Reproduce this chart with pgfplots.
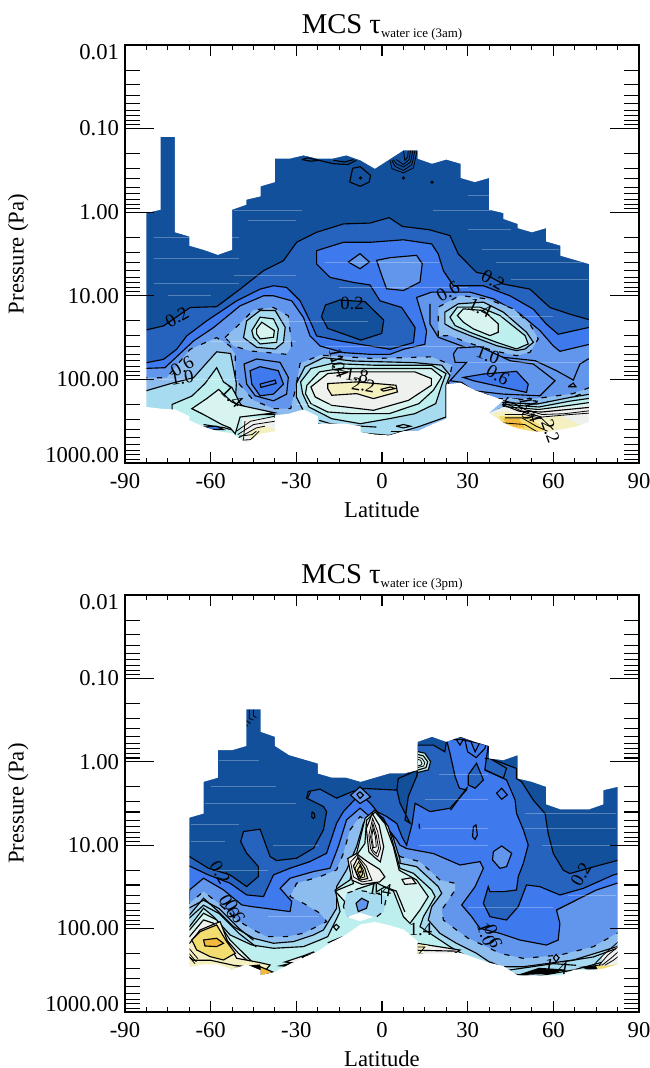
\documentclass[border=0pt]{standalone}
\usepackage{fontspec}
\setmainfont{Liberation Serif}
\usepackage{pgfplots}
\pgfplotsset{compat=1.18}
\definecolor{L0}{HTML}{12509C}
\definecolor{L1}{HTML}{2563BE}
\definecolor{L2}{HTML}{3E79EE}
\definecolor{L3}{HTML}{6196EC}
\definecolor{L4}{HTML}{8DBDEE}
\definecolor{L5}{HTML}{A6DBF0}
\definecolor{L6}{HTML}{BDEFEF}
\definecolor{L7}{HTML}{D8F4F0}
\definecolor{L8}{HTML}{EEF1EE}
\definecolor{L9}{HTML}{F5F0C0}
\definecolor{L10}{HTML}{F3DC70}
\definecolor{L11}{HTML}{F2B93C}
\newcommand{\reg}[2]{\addplot[fill=#1,draw=black,line width=.85pt] coordinates {#2} -- cycle;}
\newcommand{\fil}[2]{\addplot[fill=#1,draw=none] coordinates {#2} -- cycle;}
\newcommand{\das}[2]{\addplot[fill=#1,draw=black,line width=.85pt,dash pattern=on 4pt off 7pt] coordinates {#2} -- cycle;}
\newcommand{\cl}[1]{\addplot[black,line width=.85pt] coordinates {#1};}
\newcommand{\clt}[1]{\addplot[black,line width=.6pt] coordinates {#1};}
\newcommand{\lab}[4]{\node[rotate=#4,font=\fontsize{14}{14}\selectfont,inner sep=0pt] at (axis cs:#1,#2) {#3};}
\newcommand{\ttl}[1]{MCS τ\raisebox{-3pt}{\fontsize{9.7}{9.7}\selectfont water ice (#1)}}
\pgfplotsset{
 base/.style={scale only axis,width=385.5pt,xmin=-90,xmax=90,ymin=-2,ymax=3,y dir=reverse,
  no markers,axis line style={line width=1pt},tick style={black,line width=.8pt},
  tick align=inside,tick pos=both},
 ax/.style={base,axis on top,
  major tick length=21.5pt,minor tick length=11.25pt,
  xtick=\empty,
  ytick={-2,-1,0,1,2,3},yticklabels={\raisebox{-5pt}[\height][\depth]{0.01},0.10,1.00,10.00,100.00,\raisebox{6pt}[\height][\depth]{1000.00}},
  minor ytick={-1.699,-1.523,-1.398,-1.301,-1.222,-1.155,-1.097,-1.046,-.699,-.523,-.398,-.301,-.222,-.155,-.097,-.046,.301,.477,.602,.699,.778,.845,.903,.954,1.301,1.477,1.602,1.699,1.778,1.845,1.903,1.954,2.301,2.477,2.602,2.699,2.778,2.845,2.903,2.954},
  yticklabel style={font=\fontsize{17}{17}\selectfont,xshift=-1pt},
  ylabel={Pressure (Pa)},
  ylabel style={at={(axis description cs:-0.208,0.5)},anchor=center,font=\fontsize{17}{17}\selectfont},
  title style={at={(axis description cs:0.5,1.024)},anchor=center,font=\fontsize{21.5}{21.5}\selectfont}},
 axx/.style={base,major tick length=8.25pt,minor tick length=3.75pt,
  ytick=\empty,xtick={-90,-60,-30,0,30,60,90},xticklabels={-90,-60,-30,0,30,60,90},
  minor xtick={-82.5,-75,-67.5,-52.5,-45,-37.5,-22.5,-15,-7.5,7.5,15,22.5,37.5,45,52.5,67.5,75,82.5},
  xticklabel style={font=\fontsize{17}{17}\selectfont,yshift=-4.5pt},
  xlabel={Latitude},
  xlabel style={at={(axis description cs:0.5,-0.112)},anchor=center,font=\fontsize{17}{17}\selectfont}}
}
\begin{document}
\begin{tikzpicture}
\useasboundingbox (0,0) rectangle (487.5pt,801pt);
% ---------------- TOP PANEL
\begin{axis}[ax,at={(93.75pt,453.75pt)},height=313.5pt,title={\ttl{3am}}]
\fil{L0}{(-90,-2)(90,-2)(90,3)(-90,3)}
\reg{L1}{(-84,1.42)(-76.5,1.36)(-67.2,1.14)(-57.9,1.13)(-49.7,.92)(-41.5,.70)(-34.5,.58)(-29.9,.36)(-22.9,.24)(-13.5,.14)(-4.2,.13)(2.5,.065)(7.1,.17)(16.6,.21)(23.8,.28)(26.7,.50)(33.1,.72)(36.1,.74)(42.5,.86)(51.8,.92)(58.8,1.14)(65.8,1.22)(74,1.30)(74,3)(-84,3)}
\reg{L2}{(-84,1.81)(-76.5,1.76)(-71.9,1.64)(-68.4,1.48)(-61.4,1.30)(-50.9,1.06)(-42.7,.92)(-38,.88)(-33.4,.90)(-28.7,1.06)(-25.2,1.30)(-22.9,1.48)(-14.7,1.54)(-4.2,1.6)(2.8,1.64)(11,1.56)(11.6,1.38)(6.9,1.14)(-.7,1.06)(-4.2,.87)(-10,.84)(-18.2,.78)(-22.9,.62)(-22.9,.46)(-13.5,.36)(-4.2,.36)(7.5,.33)(17.4,.38)(19.7,.50)(21.5,.70)(25,.88)(35.5,.88)(44.8,1.0)(53,1.16)(57.6,1.34)(61.7,1.46)(72.2,1.38)(74,1.37)(74,3)(-84,3)}
\reg{L0}{(-19.8,1.11)(-14.7,1.05)(-6,1.07)(.6,1.29)(-.1,1.45)(-7.4,1.53)(-19,1.39)(-21.2,1.25)}
\reg{L3}{(-1.9,.576)(2.8,.544)(12.1,.516)(14.1,.616)(13.3,.836)(7.5,.936)(1.6,.916)(-.1,.756)}
\reg{L3}{(-11.8,.596)(-7.7,.496)(-4.4,.596)(-7.7,.676)}
\reg{L3}{(-84,1.87)(-76,1.86)(-66,1.54)(-59,1.38)(-49.7,1.12)(-41.5,1.0)(-38,1.0)(-31.6,1.06)(-27.5,1.26)(-25.2,1.48)(-21.7,1.6)(-13.5,1.68)(-4.2,1.7)(2.8,1.7)(7.5,1.64)(15,1.58)(15.6,1.42)(12.1,1.02)(17.4,.956)(20.9,.956)(30.8,.956)(39,1.036)(48.3,1.216)(55.3,1.416)(60,1.6)(62.3,1.664)(72.2,1.584)(74,1.57)(74,3)(-84,3)}
% light regions
\cl{(16.8,1.096)(16.8,1.336)(19.7,1.496)(30.8,1.636)(42.5,1.736)(53.6,1.776)(61.1,1.896)(67,2.008)(69.3,1.816)(72.2,1.756)(74,1.75)}
\das{L4}{(19.7,1.48)(19.7,1.136)(27.3,.996)(36.6,1.036)(46,1.156)(51.8,1.336)(54.7,1.516)(51.8,1.676)(47.1,1.716)(39,1.656)(29.6,1.556)(23.8,1.476)}
\reg{L5}{(22,1.336)(22,1.196)(26.7,1.096)(35.5,1.076)(42.5,1.196)(50.6,1.436)(53,1.556)(50.1,1.636)(47.1,1.656)(40.1,1.596)(30.8,1.476)(25,1.396)}
\reg{L6}{(23.8,1.256)(26.4,1.136)(34.3,1.136)(41.3,1.236)(50.1,1.476)(51.2,1.576)(47.1,1.636)(40.1,1.556)(30.8,1.436)(25.6,1.356)}
\reg{L7}{(26.4,1.236)(28.5,1.156)(35.5,1.176)(40.7,1.336)(40.7,1.436)(37.8,1.476)(32,1.396)(28.5,1.316)}
\das{L4}{(-55,1.5)(-50,1.34)(-45,1.17)(-38,1.14)(-32.8,1.24)(-31.6,1.6)(-33.4,1.7)(-46,1.66)(-52,1.6)}
\das{L4}{(-84,1.98)(-75.4,1.98)(-67.2,1.64)(-57.9,1.5)(-53.2,1.6)(-51.4,1.7)(-51.4,2.0)(-45,2.25)(-38,2.35)(-32,2.35)(-30.4,2.13)(-28.7,1.81)(-21.7,1.71)(-3,1.75)(17.3,1.73)(24.5,1.83)(23,2.1)(29,2.09)(40.7,2.23)(53.8,2.23)(66.9,2.17)(72.5,2.10)(74,2.1)(74,3)(-84,3)}
\reg{L5}{(-48.5,1.5)(-47.4,1.3)(-42.7,1.176)(-37.4,1.176)(-33.9,1.376)(-34.5,1.556)(-37.4,1.636)(-43.9,1.616)}
\reg{L6}{(-45.6,1.416)(-42.7,1.256)(-38,1.276)(-36.3,1.396)(-36.9,1.556)(-42.7,1.576)(-45,1.496)}
\reg{L7}{(-43.9,1.396)(-42.1,1.316)(-37.7,1.416)(-38,1.496)(-42.7,1.516)(-43.9,1.456)}
% lower left island
\reg{L3}{(-48.3,1.816)(-43.9,1.756)(-35.7,1.796)(-32.8,1.976)(-33.4,2.176)(-38,2.256)(-44.4,2.196)(-47.4,2.056)}
\reg{L2}{(-46.2,1.896)(-42.7,1.848)(-36.3,1.896)(-34.5,2.056)(-38,2.176)(-42.7,2.196)(-45.6,2.056)}
\cl{(-42.7,2.056)(-37.4,2.008)(-37.1,2.048)(-42.4,2.096)(-42.7,2.056)}
% left lower
\reg{L5}{(-84,2.15)(-74,2.05)(-66,1.98)(-60.8,1.78)(-57.9,1.67)(-53,1.69)(-51,2.05)(-51.4,2.27)(-45,2.38)(-38,2.42)(-38,3)(-84,3)}
\reg{L6}{(-73.5,2.3)(-66.6,2.2)(-62,2.05)(-57.9,1.86)(-55.5,2.03)(-52.5,2.1)(-49.5,2.3)(-45,2.42)(-37.5,2.42)(-37.5,3)(-73.5,3)}
\reg{L7}{(-66.6,2.35)(-61.4,2.23)(-57.2,2.12)(-52.6,2.27)(-49.7,2.31)(-37.5,2.4)(-49.7,2.45)(-51.4,2.65)(-53.2,2.58)(-56.1,2.54)(-62.5,2.42)}
\fil{L8}{(-49,2.46)(-37.5,2.46)(-37.5,3)(-49,3)}
\fil{L9}{(-46.2,2.62)(-41.5,2.55)(-37.5,2.6)(-37.5,3)(-46.2,3)}
\clt{(-51,2.62)(-46,2.5)(-37.5,2.44)}
\clt{(-50.5,2.66)(-45,2.54)(-37.5,2.5)}
\clt{(-50.3,2.7)(-44,2.58)(-41,2.56)}
\clt{(-50,2.73)(-46,2.72)(-43,2.62)}
\clt{(-50,2.68)(-45.5,2.66)(-44,2.62)}
\clt{(-48,2.5)(-48.5,2.72)}
\cl{(-62.5,2.54)(-55,2.58)(-53,2.6)}
\reg{L2}{(-62.4,2.57)(-58,2.56)(-55.5,2.6)(-60,2.6)}
% central dome
\reg{L5}{(-30,2.05)(-27,1.85)(-20.5,1.74)(-10.3,1.78)(11.5,1.80)(20.9,1.83)(23.8,1.95)(22.4,2.07)(22.4,2.45)(12.9,2.565)(2.5,2.67)(-7.6,2.64)(-22.5,2.53)(-27.6,2.37)(-30,2.21)}
\reg{L6}{(-28.5,2.03)(-24.9,1.87)(-17.6,1.81)(-3,1.83)(17.3,1.83)(22.4,1.93)(20.9,2.07)(18.8,2.29)(11.5,2.41)(2.5,2.47)(-7.6,2.53)(-17.6,2.47)(-25.6,2.33)(-27.8,2.17)}
\reg{L7}{(-26.3,2.07)(-21.9,1.91)(-14.7,1.87)(-3,1.87)(17.3,1.87)(20.9,1.97)(18,2.13)(12.9,2.29)(2.5,2.41)(-10.3,2.41)(-19,2.39)(-24.9,2.29)(-26.8,2.17)}
\reg{L8}{(-24.9,2.09)(-19,1.93)(-11.8,1.91)(11.5,1.91)(17.3,1.99)(17.3,2.07)(9.3,2.25)(-3,2.37)(-17.6,2.31)(-23.4,2.21)}
\reg{L9}{(-19,2.05)(-8.9,2.03)(4.9,2.07)(5.4,2.15)(-3,2.23)(-8.9,2.17)(-17.6,2.19)(-19,2.11)}
\cl{(-.5,2.12)(3,2.09)(4.5,2.11)(.5,2.14)(-.5,2.12)}
\cl{(-22,2.49)(-18,2.53)(-12,2.55)(-2,2.57)}
\cl{(5,2.56)(7.5,2.54)(10,2.56)(7.5,2.58)(5,2.56)}
\cl{(3,2.62)(12,2.62)}
% right lower
\reg{L3}{(25,1.696)(26.4,1.624)(34.3,1.608)(44.8,1.776)(53,1.816)(60.6,2.016)(55.3,2.196)(42.5,2.176)(32,2.136)(27.9,2.036)(23.8,2.016)(29.6,1.796)(25.6,1.796)}
\reg{L2}{(28.5,1.976)(35.5,1.936)(47.1,1.904)(51.2,2.056)(50.6,2.156)(42.5,2.096)(32,2.016)}
\cl{(65.2,2.088)(67,2.044)(67.9,2.088)(65.2,2.088)}
\das{L4}{(40,2.4)(44,2.22)(54,2.26)(62,2.27)(72.5,2.14)(74,2.13)(74,3)(40,3)}
\reg{L5}{(42.5,2.276)(54.1,2.296)(65.8,2.216)(74,2.17)(74,3)(42,3)}
\reg{L6}{(43,2.3)(55,2.33)(65.8,2.26)(74,2.22)(74,3)(43,3)}
\reg{L7}{(43.5,2.33)(55,2.36)(65.8,2.31)(74,2.27)(74,3)(43.5,3)}
\fil{L8}{(37,2.41)(42.5,2.33)(54,2.37)(65.8,2.34)(74,2.31)(74,3)(37,3)}
\cl{(42,2.3)(48,2.38)(56,2.39)(65,2.36)(74,2.33)}
\fil{L9}{(38.5,2.41)(42.5,2.38)(50,2.42)(56,2.47)(62,2.43)(73,2.6)(60,2.75)(45,2.75)}
\fil{L10}{(41,2.44)(51,2.44)(57,2.6)(50,2.7)(43,2.62)}
\fil{L11}{(42.5,2.47)(48,2.47)(50,2.58)(44,2.56)}
\clt{(43,2.42)(50,2.42)(56,2.47)(60,2.6)}
\clt{(43,2.46)(49,2.46)(54,2.56)(58,2.62)}
\clt{(42.5,2.52)(50,2.54)(56,2.66)}
\clt{(42,2.25)(46,2.28)(50,2.36)(56,2.42)(64,2.41)(74,2.37)}
\clt{(42,2.27)(46,2.33)(50,2.4)(56,2.45)(66,2.42)(74,2.4)}
\clt{(43,2.26)(47,2.3)(49,2.36)}
% top details
\cl{(-11.3,-.36)(-10.3,-.525)(-7.6,-.545)(-4,-.44)(-4.5,-.36)(-7.6,-.31)(-11.3,-.36)}
\cl{(-28,-.63)(-26,-.65)(-22,-.62)(-17,-.58)(-12,-.57)(-9,-.62)}
\cl{(-28,-.63)(-25,-.61)(-22,-.62)}
\cl{(-17,-.62)(-13,-.6)(-10,-.63)}
\clt{(2.8,-.62)(3.5,-.52)(7.5,-.47)(11,-.53)(12.3,-.74)}
\clt{(3.5,-.62)(4.5,-.55)(7.5,-.5)(10.5,-.57)(11.5,-.74)}
\clt{(4,-.63)(5,-.58)(7.5,-.54)(10,-.6)(10.8,-.74)}
\clt{(5,-.63)(7.5,-.57)(9.5,-.63)(10,-.74)}
\clt{(7.5,-.74)(8,-.62)(9,-.66)(9.2,-.74)}
\addplot[only marks,mark=*,mark size=1pt,black] coordinates {(7.5,-.41)(17.5,-.36)(-7.5,-.41)};
% seams
\addplot[white,opacity=.28,line width=.5pt,unbounded coords=jump] coordinates {(-52,-.02)(-28,-.02)(0,nan)(-47,.1)(-30,.1)(0,nan)(-80,.3)(-50,.3)(0,nan)(-80,.55)(-50,.55)(0,nan)(-52,.75)(-30,.75)(0,nan)(-80,.85)(-50,.85)(0,nan)(-75,1.0)(-60,1.0)(0,nan)(30,-.2)(42,-.2)(0,nan)(18,-.02)(38,-.02)(0,nan)(30,.2)(45,.2)(0,nan)(35,.45)(62,.45)(0,nan)(40,.6)(70,.6)(0,nan)(45,.8)(72,.8)(0,nan)(-20,.6)(20,.6)(0,nan)(-15,.9)(30,.9)(0,nan)(-40,1.3)(-5,1.3)(0,nan)(-60,1.55)(-30,1.55)(0,nan)(-20,1.6)(30,1.6)(0,nan)(30,1.8)(70,1.8)(0,nan)(-78,2.0)(-50,2.0)(0,nan)(-30,2.3)(-10,2.3)(0,nan)(35,1.25)(60,1.25)};
% mask
\addplot[fill=white,draw=none,even odd rule] coordinates {(-90,-2)(90,-2)(90,3)(-90,3)(-90,-2)(-82.5,.01)(-77.5,-.03)(-77.5,-.9)(-72.5,-.9)(-72.5,.24)(-67.5,.29)(-67.5,.40)(-62.5,.45)(-57.5,.51)(-52.5,.45)(-52.5,-.03)(-47.5,-.09)(-47.5,-.15)(-42.5,-.19)(-42.5,-.31)(-37.5,-.36)(-37.5,-.64)(-32.5,-.64)(-27.5,-.68)(-22.5,-.64)(-17.5,-.64)(-12.5,-.68)(-7.5,-.62)(-2.5,-.52)(2.5,-.63)(7.5,-.74)(12.5,-.74)(12.5,-.64)(17.5,-.58)(22.5,-.63)(27.5,-.58)(27.5,-.41)(32.5,-.36)(37.5,-.41)(37.5,-.03)(42.5,.01)(42.5,.08)(47.5,.14)(47.5,.19)(52.5,.24)(57.5,.19)(57.5,.35)(62.5,.40)(62.5,.52)(67.5,.57)(72.5,.62)(72.5,2.51)(67.5,2.57)(57.5,2.63)(52.5,2.62)(47.5,2.59)(42.5,2.52)(37.5,2.40)(42.5,2.25)(32.5,2.13)(27.5,2.04)(22.5,2.06)(22.5,2.47)(17.5,2.54)(12.5,2.62)(7.5,2.62)(2.5,2.67)(-2.5,2.66)(-7.5,2.63)(-7.5,2.56)(-12.5,2.53)(-22.5,2.53)(-22.5,2.44)(-27.5,2.36)(-32.5,2.41)(-37.5,2.43)(-37.5,2.62)(-42.5,2.65)(-47.5,2.76)(-52.5,2.645)(-57.5,2.62)(-62.5,2.565)(-67.5,2.49)(-67.5,2.44)(-72.5,2.36)(-77.5,2.35)(-82.5,2.33)(-82.5,.01)(-90,-2)};
% labels
\lab{-71.8}{1.26}{0.2}{30}
\lab{-10.5}{1.09}{0.2}{0}
\lab{38.9}{.81}{0.2}{-30}
\lab{23.1}{.95}{0.6}{30}
\lab{34.3}{1.15}{1.4}{-25}
\lab{37.1}{1.71}{1.0}{-20}
\lab{40.6}{1.95}{0.6}{-30}
\lab{-70}{1.85}{0.6}{30}
\lab{-70}{1.98}{1.0}{10}
\lab{-52.5}{2.21}{1.4}{-45}
\lab{-15.8}{1.77}{1.0}{-80}
\lab{-15}{1.84}{1.4}{-70}
\lab{-8.8}{1.95}{1.8}{-10}
\lab{-6.5}{2.07}{2.2}{-10}
\lab{50.8}{2.34}{1.0}{-80}
\lab{53}{2.38}{1.4}{-75}
\lab{59}{2.62}{2.2}{-70}
\end{axis}
\begin{axis}[axx,at={(93.75pt,453.75pt)},height=313.5pt]
\addplot[draw=none] coordinates {(0,0)};
\end{axis}
% ---------------- BOTTOM PANEL
\begin{axis}[ax,at={(93.75pt,42pt)},height=312.75pt,title={\ttl{3pm}}]
\fil{L0}{(-90,-2)(90,-2)(90,3)(-90,3)}
\reg{L1}{(-69,1.12)(-67.4,1.136)(-60.8,1.276)(-53.2,1.356)(-47.4,1.496)(-43.3,1.376)(-43.3,1.256)(-47.4,1.096)(-49.5,.956)(-48.5,.836)(-42.7,.808)(-39.2,1.136)(-36.9,1.184)(-29.9,1.156)(-24,1.036)(-20.5,.816)(-19.4,.596)(-20.5,.536)(-26.4,.436)(-25.8,.356)(-21.7,.328)(-15.9,.436)(-10.3,.355)(-6,.32)(5.7,.34)(9.3,.14)(12.2,.18)(12.4,.1)(12.4,-.2)(18,-.2)(22,-.12)(22.6,-.26)(27.3,-.3)(37.2,-.2)(37.8,-.04)(42.5,.02)(47.1,.08)(47.1,.2)(48.9,.24)(53,.46)(57.1,.62)(58.2,.86)(60,1.10)(63.5,1.3)(65.8,1.34)(74,1.26)(82.2,1.185)(84,1.18)(84,3)(-69,3)}
\reg{L0}{(5.2,.336)(6.3,.496)(9.8,.736)(8.05,.697)(9.2,.417)(12.1,.177)(12.4,.1)(5.7,.2)}
\reg{L2}{(-69,1.24)(-67.4,1.25)(-60.8,1.356)(-53.2,1.456)(-47.4,1.596)(-41.5,1.616)(-38,1.356)(-32.2,1.276)(-25.2,1.196)(-19.4,1.096)(-15.9,.736)(-13.5,.596)(-9.5,.45)(-7.7,.38)(-4,.5)(-1.6,.6)(1.6,.656)(5.2,.74)(7,.9)(8.6,1.0)(10.5,.75)(11.6,.497)(16.8,.597)(23.8,.557)(29.6,.337)(27.1,.317)(25.6,.177)(23.8,-.103)(22.6,-.263)(27.3,-.27)(37.2,-.2)(36,.097)(43.6,.217)(46.6,.457)(47.1,.617)(49.5,.817)(51.2,.997)(49.5,1.217)(47.7,1.377)(47.1,1.537)(42.5,1.557)(37.8,1.557)(37.2,1.497)(35.5,1.697)(37.8,1.857)(43.6,1.897)(47.7,1.737)(50.6,1.477)(55.3,1.497)(62.3,1.597)(70.5,1.517)(81,1.357)(84,1.33)(84,3)(-69,3)}
\reg{L3}{(39,1.077)(41.9,1.009)(45.4,1.097)(43.6,1.257)(41.3,1.277)(38.7,1.177)}
\cl{(40.1,.377)(41.9,.317)(43.9,.397)(41.9,.449)(40.1,.377)}
\cl{(32,.777)(32.9,.757)(33.4,.877)(32.6,.93)(31.7,.897)(32,.777)}
\reg{L1}{(30.2,.157)(33.1,.017)(35.5,.217)(32.6,.317)(30.2,.277)}
\cl{(36,-.04)(37.8,-.04)(43.6,.077)(42.5,.197)(36,.097)}
\cl{(26,-.27)(27.3,-.2)(28.5,-.27)}
\cl{(30.8,-.27)(32.6,-.12)(34.4,-.24)}
\cl{(29,-.27)(30,-.12)(33,-.05)(36,-.16)(36.5,-.22)}
\cl{(30,.3)(24,.58)}
\cl{(-24.5,.6)(-23.7,.62)(-23.5,.66)(-24,.68)(-24.6,.66)(-24.5,.6)}
\cl{(13,.74)(13.1,.8)}
\reg{L3}{(-67.4,1.536)(-62.5,1.396)(-55.5,1.536)(-49.1,1.716)(-45.6,1.736)(-32.2,1.796)(-31.6,1.676)(-35.7,1.516)(-32.2,1.396)(-24,1.316)(-18.2,1.276)(-15.3,1.016)(-12.4,.696)(-7.7,.556)(-3.6,.676)(.5,.736)(5.2,.936)(6.3,1.0)(8.6,1.04)(18,1.1)(27.3,1.237)(34.3,1.197)(35.5,1.277)(32.6,1.497)(27.9,1.717)(31.4,1.857)(34.3,1.997)(41.3,2.057)(48.3,2.137)(57.6,2.197)(61.7,2.137)(62.3,1.937)(61.1,1.777)(68.1,1.657)(75.1,1.537)(82.2,1.457)(84,1.45)(84,3)(-69,3)}
\das{L4}{(-69,1.72)(-67.4,1.696)(-62.5,1.556)(-57.3,1.696)(-50.9,1.896)(-45,2.016)(-40.4,2.096)(-33.4,2.096)(-27.5,2.056)(-19.4,1.916)(-21.7,1.816)(-27.5,1.696)(-32.2,1.616)(-29.9,1.456)(-21.7,1.376)(-15.9,1.296)(-13.5,1.096)(-11.2,.816)(-7.7,.656)(-4.2,.736)(-.7,.816)(4,1.016)(6.3,1.137)(13.3,1.197)(20.3,1.417)(25.6,1.457)(25.6,1.537)(20.9,1.777)(21.5,1.897)(26.1,2.017)(30.2,2.117)(36.6,2.217)(41.3,2.297)(49.5,2.357)(62.3,2.317)(74,2.217)(82.2,2.057)(84,2.04)(84,3)(-69,3)}
\reg{L5}{(-69,1.86)(-67.4,1.836)(-62.5,1.636)(-57.9,1.776)(-52,1.976)(-45,2.116)(-38,2.176)(-31,2.156)(-24,2.076)(-20.5,2.016)(-15.9,1.756)(-15.9,1.496)(-12.4,1.296)(-8.9,1.016)(-6.5,.736)(-3,.596)(.5,.676)(4,.916)(6.3,1.176)(6.3,1.217)(12.1,1.257)(19.7,1.497)(20.9,1.577)(17.4,1.737)(16.2,1.897)(20.3,2.057)(26.1,2.177)(33.1,2.297)(40.1,2.457)(49.5,2.457)(67,2.377)(82.2,2.217)(84,2.2)(84,3)(-69,3)}
\reg{L6}{(-69,2)(-67.4,1.976)(-62.5,1.756)(-59,1.856)(-53.2,2.076)(-45.6,2.196)(-38,2.236)(-27.5,2.216)(-21.7,2.136)(-19,2.096)(-14.7,1.796)(-16.4,1.536)(-11.2,1.416)(-10,1.256)(-8.3,1.016)(-5.9,.676)(-2.4,.576)(2.2,.776)(5.2,1.136)(6.3,1.277)(11,1.337)(17.4,1.537)(18.6,1.617)(14.5,1.857)(13.3,1.977)(23.8,2.217)(32,2.377)(40.1,2.517)(53,2.577)(67,2.497)(82.2,2.357)(84,2.34)(84,3)(-69,3)}
\reg{L7}{(-16.4,1.55)(-10,1.46)(-11.5,1.25)(-8.9,1.12)(-6,.98)(-5.4,.7)(-2.4,.6)(1,.74)(4,1.02)(6,1.3)(12.1,1.417)(16.2,1.617)(13.3,1.777)(9.8,1.937)(7.5,1.857)(4,1.55)(-2,1.45)(-9,1.53)(-12.4,1.7)}
\das{L5}{(-13.5,1.736)(-12.4,1.576)(-8.9,1.536)(-1.8,1.576)(1.6,1.616)(.5,1.796)(-1.8,1.856)(-12.4,1.856)}
\reg{L3}{(-9.1,1.696)(-7.1,1.636)(-4.8,1.676)(-5.4,1.756)(-8.3,1.796)}
\cl{(-2,1.46)(-2,1.56)(1,1.5)(5,1.55)(8,1.8)}
\cl{(-.2,1.54)(-.2,1.7)}
% tower
\reg{L8}{(-5.5,.8)(-3.4,.62)(-1,.76)(.6,1.02)(-.6,1.2)(-2.8,1.14)(-4.6,1.08)}
\clt{(-4.6,.88)(-3.3,.68)(-1.5,.84)(-.5,1.04)(-1.5,1.14)(-3,1.1)(-4,1.04)(-4.6,.88)}
\clt{(-4,.9)(-3.2,.74)(-2,.88)(-1.2,1.04)(-2,1.1)(-3.2,1.06)(-4,.9)}
\clt{(-3.6,.9)(-3.1,.8)(-2.3,.9)(-2,1.02)(-3,1.03)(-3.6,.9)}
% yellow peak
\reg{L8}{(-12,1.16)(-9,1.1)(-5,1.2)(-.8,1.29)(1,1.38)(-.8,1.44)(-7,1.47)(-10.5,1.42)}
\clt{(-11,1.2)(-8.8,1.12)(-5.5,1.25)(-3.5,1.42)(-7,1.44)(-10,1.38)(-11,1.2)}
\reg{L9}{(-10,1.25)(-8.5,1.15)(-6,1.28)(-5,1.4)(-8,1.42)}
\clt{(-9.5,1.28)(-8.2,1.2)(-6.5,1.3)(-6,1.38)(-8,1.4)(-9.5,1.28)}
\reg{L10}{(-8.6,1.3)(-7.6,1.24)(-6.7,1.34)(-7.6,1.39)}
\addplot[only marks,mark=*,mark size=.8pt,black] coordinates {(-7.6,1.32)};
\reg{L8}{(7,1.41)(10.4,1.39)(11.9,1.46)(8,1.47)}
% left peak
\reg{L7}{(-69,2.03)(-67.4,2.016)(-62.5,1.816)(-57.9,1.896)(-53.2,2.136)(-48.5,2.296)(-45,2.416)(-40,2.6)(-69,2.6)}
\reg{L8}{(-69,2.11)(-67.4,2.096)(-62.5,1.896)(-59,1.936)(-54.4,2.136)(-50.3,2.296)(-46.2,2.408)(-40,2.6)(-69,2.6)}
\reg{L9}{(-69,2.19)(-67.4,2.176)(-63.7,2.016)(-56.7,1.916)(-53.8,2.176)(-50.9,2.356)(-42.7,2.408)(-39.2,2.436)(-42.7,2.576)(-52.6,2.496)(-69,2.6)}
\reg{L10}{(-66.6,2.136)(-63.7,2.036)(-57.9,1.956)(-54.4,2.156)(-51.4,2.296)(-55.5,2.376)(-60.2,2.336)(-64.9,2.256)}
\reg{L11}{(-62.5,2.136)(-57.9,2.116)(-55.5,2.176)(-57.9,2.216)(-62,2.208)}
\cl{(-69,1.78)(-62.5,1.66)(-57,1.76)(-50,2.0)(-45,2.14)}
\cl{(-69,1.92)(-62.5,1.72)(-57,1.82)(-50,2.06)(-44,2.22)}
\cl{(-69,2.3)(-66,2.38)(-60,2.38)(-52,2.44)(-46,2.46)}
\clt{(-67.5,2.3)(-65,2.4)}
\clt{(-67.5,2.34)(-65.5,2.42)}
\clt{(-67.5,2.24)(-64.5,2.36)}
\reg{L11}{(-42.7,2.456)(-38,2.524)(-42.7,2.576)}
\addplot[fill=black,draw=none] coordinates {(-52,2.46)(-42.7,2.43)(-42.7,2.5)(-48,2.47)} -- cycle;
% lower bits
\reg{L8}{(12.4,2.177)(27.3,2.257)(22.6,2.357)(12.4,2.297)}
\fil{L9}{(12.4,2.19)(16,2.2)(13.5,2.3)(12.4,2.3)}
\clt{(12.4,2.22)(15,2.22)(13,2.3)}
\cl{(12.4,2.26)(26,2.27)}
\cl{(16,2.33)(24,2.35)}
\reg{L8}{(-34,2.4)(-27,2.32)(-24,2.28)(-21.5,2.38)(-29,2.42)}
\reg{L9}{(-28,2.34)(-24,2.3)(-23,2.35)(-26,2.4)}
\addplot[fill=black,draw=none] coordinates {(-26,2.33)(-22.5,2.28)(-22.5,2.38)} -- cycle;
\addplot[fill=black,draw=none] coordinates {(-37,2.45)(-32,2.41)(-32,2.46)} -- cycle;
\cl{(-19,2.17)(-14,2.1)(-10,2.12)}
\cl{(-20,2.27)(-15,2.14)(-12,2.16)}
\cl{(-17,1.98)(-16,1.95)(-15,1.98)(-16,2.02)(-17,1.98)}
% right lower dense
\addplot[fill=black,draw=none] coordinates {(47,2.56)(55,2.47)(64,2.49)(60,2.54)} -- cycle;
\addplot[fill=black,draw=none] coordinates {(69,2.46)(77,2.43)(76,2.49)(72,2.49)} -- cycle;
\fil{L10}{(75,2.45)(84,2.4)(84,2.5)(76,2.52)}
\fil{L8}{(77,2.33)(84,2.18)(84,2.42)(77,2.45)}
\clt{(74,2.44)(78,2.3)(84,2.12)}
\clt{(76,2.44)(79,2.32)(84,2.18)}
\clt{(77,2.44)(80,2.36)(84,2.24)}
\clt{(78,2.44)(81,2.38)(84,2.3)}
\cl{(60,2.35)(61,2.31)(62,2.35)(61,2.4)(60,2.35)}
\cl{(63,2.4)(74,2.34)(82,2.24)}
\cl{(38,2.4)(44,2.5)(60,2.42)(68,2.44)}
% top spots
\reg{L6}{(12.4,-.123)(15,-.103)(17,-.003)(16.2,.097)(12.4,.129)}
\reg{L7}{(12.4,-.09)(14.5,-.07)(16,0)(15.4,.07)(12.4,.1)}
\clt{(12.4,-.06)(14,-.04)(15,.01)(14.6,.05)(12.4,.07)}
\clt{(12.4,-.03)(13.5,-.02)(14,.02)(13.6,.04)(12.4,.05)}
\cl{(-63,-.1)(-63,.0)}
\clt{(-49.5,-.63)(-49.5,-.48)(-47,-.43)}
\clt{(-47.8,-.63)(-47.8,-.5)(-46,-.46)}
\clt{(-46.5,-.63)(-46.5,-.52)(-45,-.5)}
\clt{(-45,-.63)(-45,-.55)(-44,-.53)}
\cl{(-26,.43)(-25,.36)}
\reg{L3}{(-11,.4)(-7.7,.3)(-4,.42)(-7.7,.5)}
\cl{(-8.8,.39)(-7.7,.36)(-6.5,.4)(-7.7,.44)(-8.8,.39)}
% seams
\addplot[white,opacity=.28,line width=.5pt,unbounded coords=jump] coordinates {(-57,-.02)(-43,-.02)(0,nan)(-60,.3)(-37,.3)(0,nan)(-62,.5)(-30,.5)(0,nan)(-67,.75)(-50,.75)(0,nan)(-67,.95)(-55,.95)(0,nan)(-38,1.0)(-22,1.0)(0,nan)(15,.45)(37,.45)(0,nan)(14,.8)(37,.8)(0,nan)(13,1.0)(37,1.0)(0,nan)(20,.15)(37,.15)(0,nan)(50,.62)(82,.62)(0,nan)(50,.8)(82,.8)(0,nan)(56,1.0)(82,1.0)(0,nan)(65,1.6)(82,1.6)(0,nan)(30,1.75)(60,1.75)(0,nan)(-40,1.85)(-22,1.85)(0,nan)(-60,1.3)(-40,1.3)};
% mask
\addplot[fill=white,draw=none,even odd rule] coordinates {(-90,-2)(90,-2)(90,3)(-90,3)(-90,-2)(-67.5,.67)(-62.5,.62)(-62.5,.24)(-57.5,.19)(-57.5,-.14)(-52.5,-.14)(-47.5,-.19)(-47.5,-.63)(-42.5,-.63)(-42.5,-.36)(-37.5,-.30)(-37.5,-.19)(-32.5,-.08)(-27.5,-.03)(-22.5,.02)(-22.5,.14)(-17.5,.19)(-12.5,.19)(-7.5,.24)(-2.5,.19)(2.5,.14)(7.5,.14)(12.5,.1)(12.5,-.24)(17.5,-.30)(22.5,-.24)(27.5,-.30)(32.5,-.24)(37.5,-.19)(37.5,-.04)(42.5,-.02)(47.5,-.08)(47.5,.2)(52.5,.24)(57.5,.30)(57.5,.51)(62.5,.57)(72.5,.57)(77.5,.51)(77.5,.34)(82.5,.30)(82.5,2.43)(77.5,2.48)(72.5,2.50)(67.5,2.49)(62.5,2.56)(47.5,2.56)(42.5,2.45)(37.5,2.41)(32.5,2.35)(27.5,2.29)(22.5,2.30)(12.5,2.30)(12.5,2.15)(7.5,2.01)(2.5,1.96)(-2.5,1.92)(-7.5,1.95)(-12.5,2.07)(-17.5,2.16)(-22.5,2.27)(-27.5,2.35)(-32.5,2.43)(-37.5,2.52)(-42.5,2.56)(-42.5,2.5)(-47.5,2.43)(-52.5,2.49)(-57.5,2.43)(-62.5,2.43)(-67.5,2.46)(-67.5,.67)(-90,-2)};
\fil{white}{(-12.4,1.86)(-7.7,1.81)(-3,1.86)(-7.7,1.91)}
% labels
\lab{-56.7}{1.33}{0.2}{-60}
\lab{69.7}{1.35}{0.2}{60}
\lab{-53.5}{1.73}{0.6}{-60}
\lab{-51.5}{1.8}{0.6}{-60}
\lab{-.7}{1.53}{1.4}{-10}
\lab{13.5}{2.01}{1.4}{0}
\lab{36.5}{2.07}{1.0}{-70}
\lab{39}{2.09}{0.6}{-70}
\lab{61}{2.46}{1.4}{-10}
\end{axis}
\begin{axis}[axx,at={(93.75pt,42pt)},height=312.75pt]
\addplot[draw=none] coordinates {(0,0)};
\end{axis}
\end{tikzpicture}
\end{document}
